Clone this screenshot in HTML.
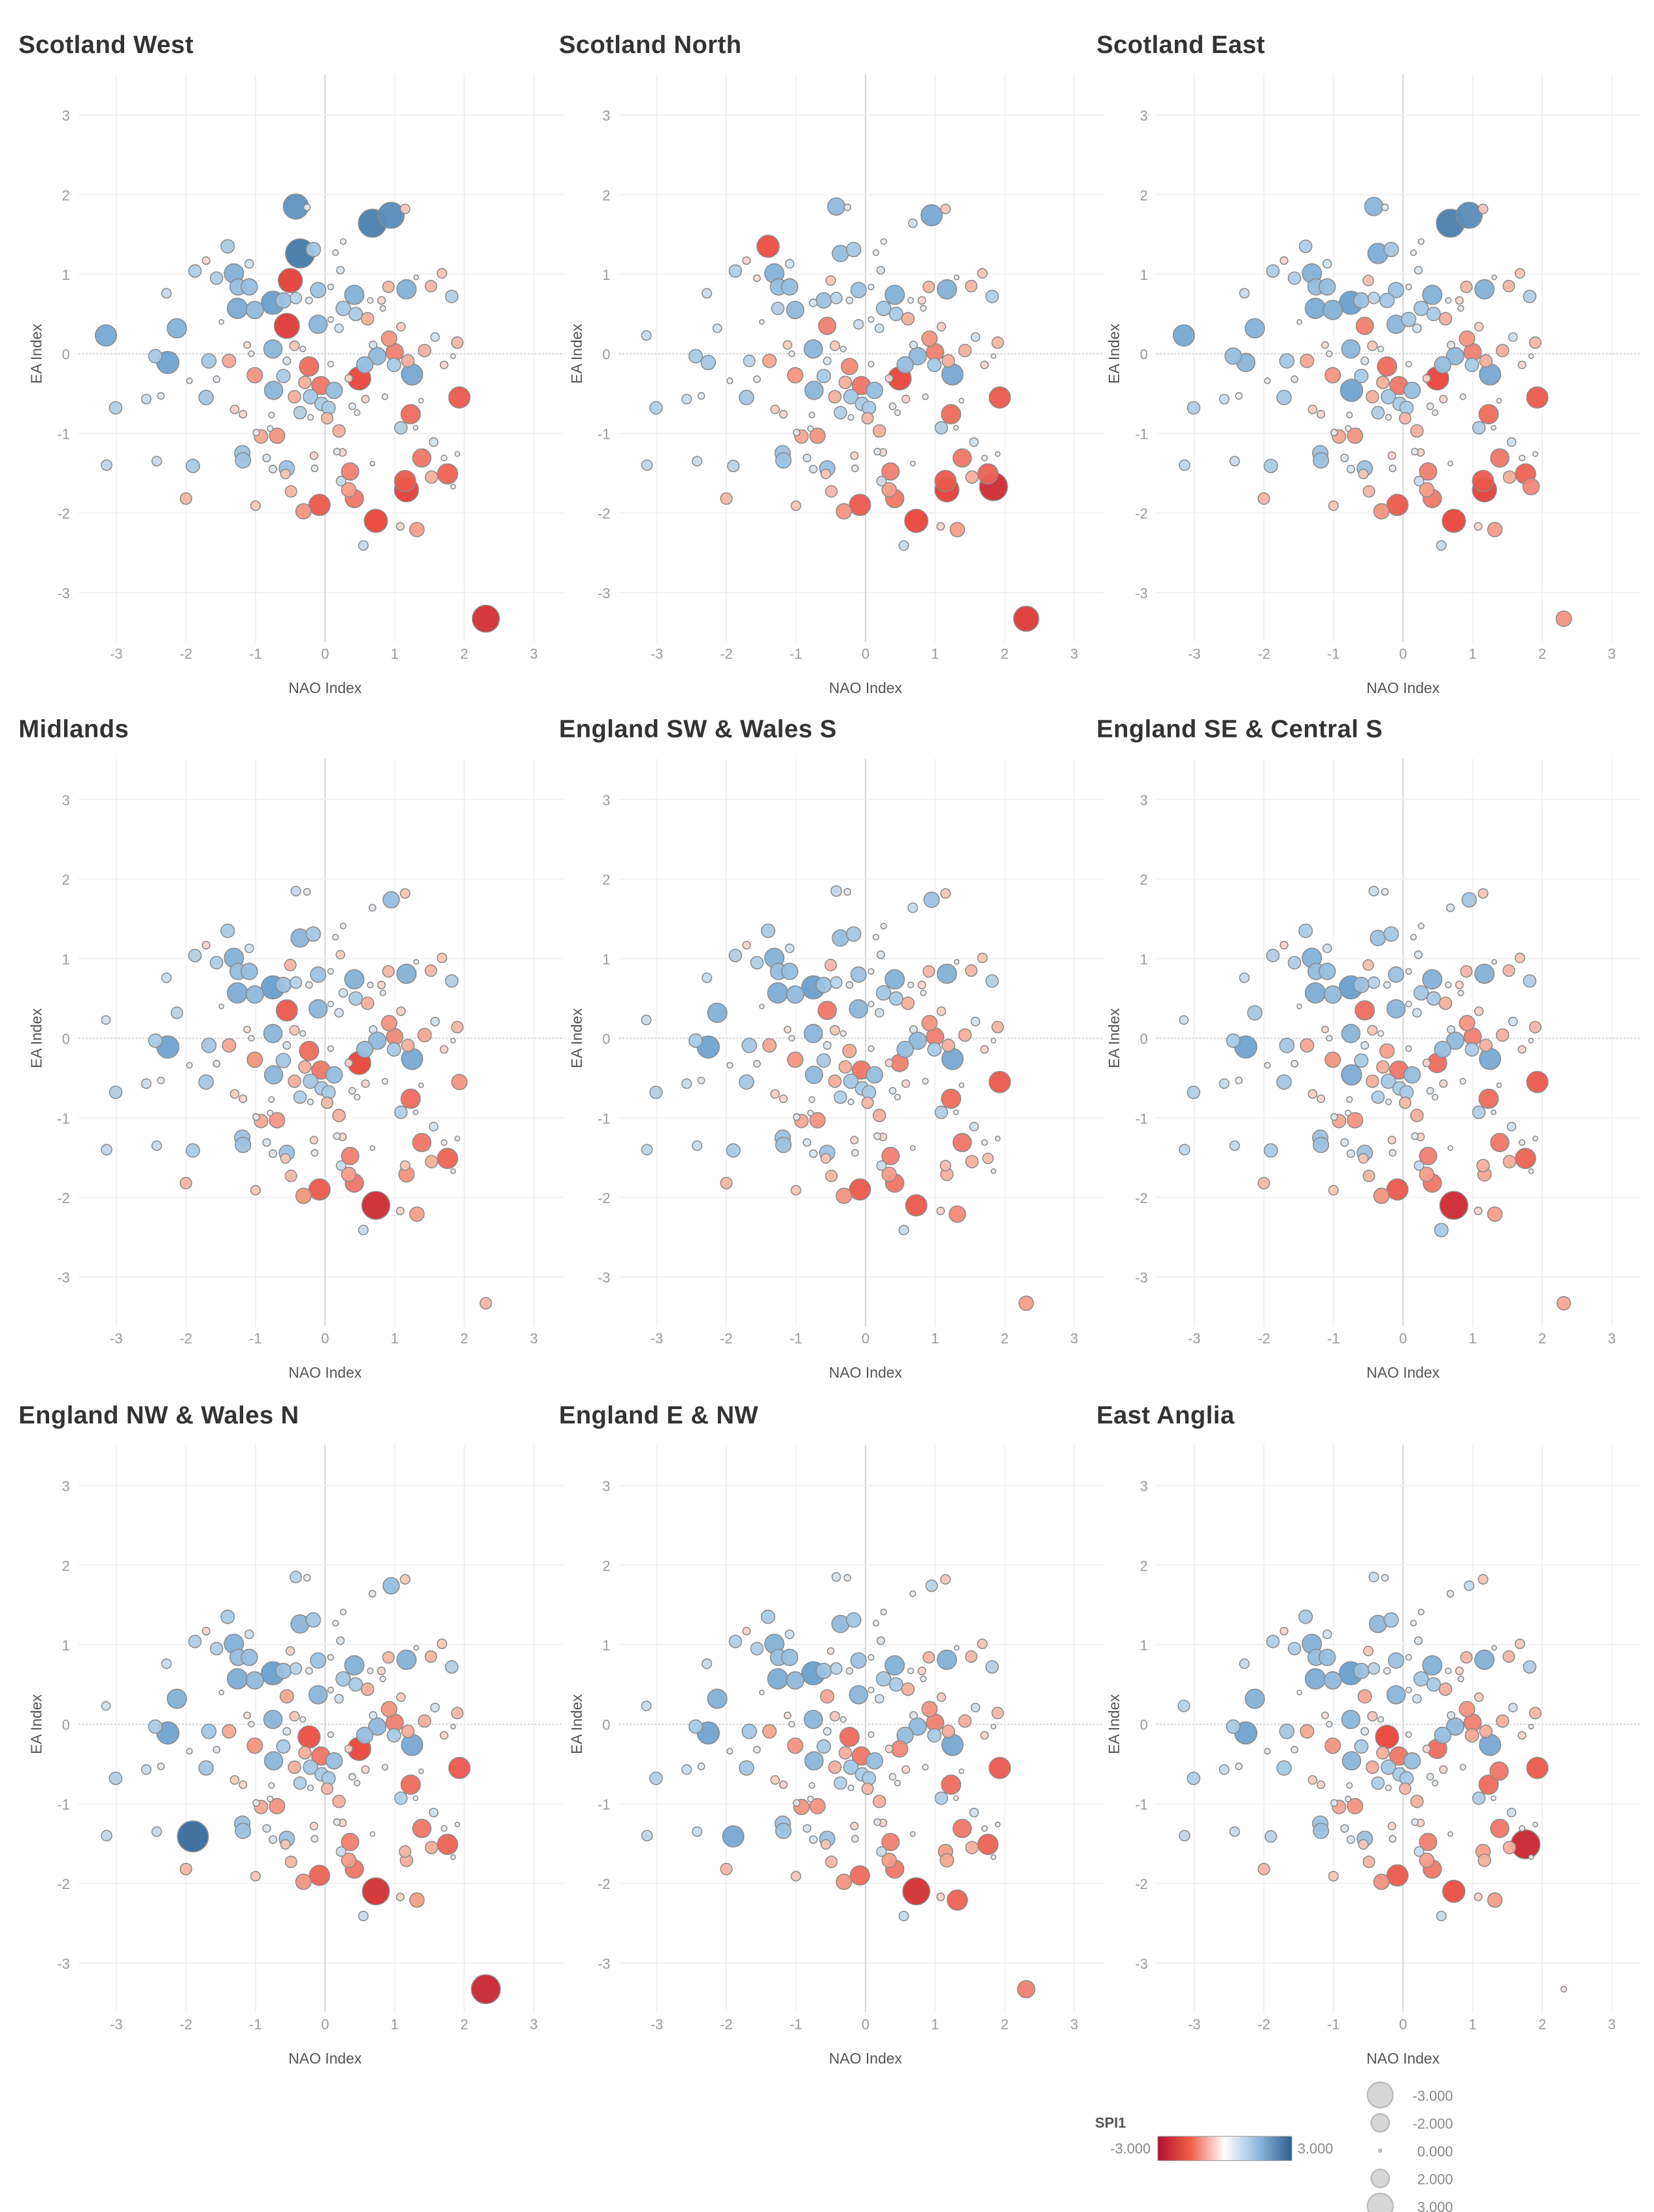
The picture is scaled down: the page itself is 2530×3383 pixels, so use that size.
<!DOCTYPE html>
<html><head><meta charset="utf-8">
<style>
html,body{margin:0;padding:0;background:#fff;}
svg{display:block;font-family:"Liberation Sans",sans-serif;}
</style></head>
<body>
<svg id="chart" width="2530" height="3383" viewBox="0 0 1160 1551" xmlns="http://www.w3.org/2000/svg">
<defs>
<linearGradient id="spiGrad" x1="0" x2="1" y1="0" y2="0">
<stop offset="0" stop-color="#b3102b"/><stop offset="0.25" stop-color="#f0614a"/><stop offset="0.5" stop-color="#ffffff"/><stop offset="0.75" stop-color="#8fb8dc"/><stop offset="1" stop-color="#2d5f8f"/>
</linearGradient>
</defs>
<g id="panels"></g>
<g>
<text x="768" y="1492" font-size="10" fill="#555" font-weight="bold">SPI1</text>
<text x="807" y="1510" font-size="10" fill="#888" text-anchor="end">-3.000</text>
<rect x="812" y="1498" width="94" height="17" fill="url(#spiGrad)" stroke="#999" stroke-width="0.5"/>
<text x="910" y="1510" font-size="10" fill="#888">3.000</text>
<g id="sizeLegend"></g>
</g>
</svg>
<script>
const NS='http://www.w3.org/2000/svg';
// Shared year positions (NAO index, EA index)
const naoValues=[-0.42,-0.26,0.68,0.95,1.15,0.26,-1.4,-1.71,-1.09,-0.36,-0.17,0.15,0.22,-1.87,-1.56,-1.31,-1.25,-1.09,-0.5,-2.28,-1.26,-1.01,-0.75,-0.6,-0.42,-0.1,-0.23,0.08,0.42,0.26,0.44,0.65,0.81,0.91,1.17,1.52,1.68,1.82,1.31,-1.49,-2.13,-3.15,-0.55,-0.1,0.08,0.2,0.61,0.83,1.09,1.58,1.9,0.92,1.0,1.43,1.19,1.25,0.75,0.57,0.99,0.69,1.71,1.84,-1.12,-1.06,-0.75,-0.44,-0.32,-0.55,-2.44,-2.26,-1.67,-1.38,-0.23,0.08,-1.01,-0.6,-0.29,-0.06,0.13,0.49,0.34,-0.74,-1.56,-1.95,-0.44,-0.21,-0.05,-2.57,-2.36,-1.71,-3.01,0.05,0.39,0.58,0.86,1.38,1.93,-1.3,-1.18,-0.36,-0.77,-0.21,0.03,0.46,1.23,1.09,1.3,0.2,-0.99,-0.79,-0.92,-0.69,-1.19,-1.18,-0.84,-3.14,-2.42,-1.9,-0.75,-0.55,-0.57,-0.16,-0.15,0.17,0.25,0.36,0.23,0.68,1.39,1.56,1.71,1.9,1.15,1.17,1.53,1.76,1.84,0.34,0.42,-0.49,-2.0,-1.0,-0.31,-0.08,0.73,1.08,1.32,0.55,2.31];
const eaValues=[1.85,1.84,1.64,1.74,1.82,1.41,1.35,1.17,1.13,1.26,1.31,1.27,1.05,1.04,0.95,1.01,0.84,0.84,0.92,0.76,0.57,0.55,0.64,0.67,0.7,0.8,0.67,0.84,0.74,0.57,0.5,0.67,0.67,0.84,0.81,0.85,1.01,0.72,0.96,0.4,0.32,0.23,0.35,0.37,0.43,0.32,0.44,0.57,0.34,0.21,0.14,0.19,0.02,0.04,-0.09,-0.26,-0.03,-0.14,-0.14,0.11,-0.14,-0.03,0.11,0.0,0.06,0.1,0.06,-0.09,-0.03,-0.11,-0.09,-0.09,-0.16,-0.13,-0.27,-0.28,-0.36,-0.4,-0.46,-0.31,-0.31,-0.46,-0.32,-0.34,-0.54,-0.54,-0.63,-0.57,-0.53,-0.55,-0.68,-0.68,-0.66,-0.57,-0.54,-0.59,-0.55,-0.7,-0.76,-0.74,-0.77,-0.8,-0.81,-0.74,-0.76,-0.93,-0.93,-0.97,-0.99,-0.94,-1.04,-1.03,-1.25,-1.34,-1.31,-1.4,-1.35,-1.41,-1.45,-1.44,-1.51,-1.28,-1.44,-1.23,-1.24,-1.48,-1.6,-1.38,-1.31,-1.11,-1.31,-1.26,-1.6,-1.71,-1.55,-1.51,-1.67,-1.71,-1.82,-1.73,-1.82,-1.91,-1.98,-1.9,-2.1,-2.17,-2.21,-2.41,-3.33];
// SPI1 for Scotland West (base)
const spiScotlandWest=[2.2,0.3,2.5,2.3,-0.6,0.2,1.0,-0.4,0.5,2.6,1.1,0.2,0.4,0.9,0.9,1.6,1.3,1.3,-2.1,0.6,1.7,1.4,2.0,1.2,0.8,1.2,0.3,0.2,1.6,1.1,1.0,0.2,-0.4,-0.8,1.6,-0.8,-0.6,0.9,0.1,0.1,1.6,1.8,-2.2,1.5,0.2,0.5,-0.9,0.2,-0.5,0.5,-0.8,-1.2,-1.4,-0.9,-0.9,1.8,1.4,1.3,1.0,0.4,-0.4,0.1,-0.3,0.2,1.5,-0.6,0.2,0.4,1.0,1.9,1.1,-1.0,-1.6,0.2,-1.2,1.0,-0.9,-1.5,1.3,-2.0,-0.4,1.5,0.3,0.2,-0.9,1.1,1.0,0.6,0.3,1.1,0.9,1.0,0.3,-0.4,0.2,0.1,-1.8,-0.5,-0.4,0.9,0.2,0.2,-0.8,0.2,-1.6,0.9,0.1,-0.9,0.3,0.2,-1.0,-1.2,1.2,1.2,0.4,0.7,0.6,1.0,0.4,1.2,-0.6,-0.4,0.3,0.3,-0.4,-1.4,0.6,0.1,-1.5,0.5,0.2,0.1,-1.8,-2.1,-0.9,-1.7,0.1,-1.1,-1.5,-0.8,-0.8,-0.6,-1.2,-1.8,-2.0,-0.4,-1.1,0.6,-2.4];
// Per-region overrides: [index, spi] pairs
const ovScotlandNorth=[[6,-1.9],[0,1.4],[9,1.3],[22,0.4],[20,0.9],[43,0.6],[18,-0.6],[42,-1.4],[136,-2.5],[148,-2.2],[41,0.6],[69,1.1],[70,0.8],[14,-0.3],[62,-0.5],[72,-1.3],[3,1.8],[2,0.5],[40,0.5],[117,0.8]];
const ovScotlandEast=[[18,-0.7],[6,0.9],[9,1.7],[0,1.5],[42,-1.4],[148,-1.2],[136,-1.3],[21,1.6],[26,1.1],[44,1.1],[69,1.5],[68,1.3],[81,1.9]];
const ovMidlands=[[144,-2.5],[148,-0.8],[133,-1.2],[132,-0.6],[42,-1.8],[18,-0.8],[0,0.6],[9,1.5],[3,1.3],[2,0.3],[40,0.8],[41,0.5],[29,0.5],[52,-1.3],[53,-1.0],[96,-1.2],[75,1.1],[12,-0.5]];
const ovEnglandSW=[[148,-1.1],[144,-1.8],[146,-1.3],[133,-0.9],[132,-0.7],[42,-1.5],[18,-0.8],[0,0.7],[9,1.3],[3,1.2],[2,0.6],[41,0.6],[40,1.6],[81,1.4],[135,-0.7],[79,-1.4],[72,-1.0]];
const ovEnglandSE=[[144,-2.5],[148,-1.0],[133,-1.0],[132,-0.9],[42,-1.6],[18,-0.7],[0,0.6],[9,1.2],[3,1.1],[2,0.4],[40,1.1],[41,0.5],[79,-1.6],[72,-1.1],[81,1.7],[147,1.0]];
const ovEnglandNWWalesN=[[117,2.8],[148,-2.6],[144,-2.4],[72,-1.9],[143,-1.7],[42,-1.0],[18,-0.5],[0,0.8],[9,1.5],[3,1.3],[2,0.3],[41,0.5],[133,-0.9],[132,-0.8]];
const ovEnglandENW=[[117,1.8],[148,-1.4],[144,-2.4],[146,-1.7],[72,-1.6],[143,-1.6],[42,-1.0],[18,-0.3],[0,0.5],[9,1.4],[3,0.8],[2,0.2],[41,0.6],[79,-1.3],[110,-1.2],[133,-1.0],[132,-1.1]];
const ovEastAnglia=[[135,-2.6],[148,-0.2],[144,-1.9],[72,-2.0],[79,-1.6],[58,-1.0],[42,-1.0],[18,-0.6],[0,0.6],[9,1.4],[3,0.6],[2,0.3],[41,0.8],[117,0.8],[133,-0.9],[132,-1.1],[95,-1.5]];
const regionNames=['Scotland West','Scotland North','Scotland East','Midlands','England SW & Wales S','England SE & Central S','England NW & Wales N','England E & NW','East Anglia'];
const regionOverrides=[[],ovScotlandNorth,ovScotlandEast,ovMidlands,ovEnglandSW,ovEnglandSE,ovEnglandNWWalesN,ovEnglandENW,ovEastAnglia];
const axisTicks=[-3,-2,-1,0,1,2,3];
const sizeLegendValues=[-3,-2,0,2,3];
const sizeLegendLabels=['-3.000','-2.000','0.000','2.000','3.000'];

function mk(tag,attrs,parent){const e=document.createElementNS(NS,tag);for(const k in attrs)e.setAttribute(k,attrs[k]);if(parent)parent.appendChild(e);return e;}
function lerp(a,b,t){return a+(b-a)*t;}
function hex(c){return [parseInt(c.slice(1,3),16),parseInt(c.slice(3,5),16),parseInt(c.slice(5,7),16)];}
const cStops=[[-3,'#b3102b'],[-2,'#e9443a'],[-1,'#f5a792'],[0,'#f7f4f2'],[1,'#a9cbe6'],[2,'#6a9fcd'],[3,'#2d5f8f']];
function color(v){v=Math.max(-3,Math.min(3,v));for(let i=0;i<cStops.length-1;i++){if(v<=cStops[i+1][0]){const t=(v-cStops[i][0])/(cStops[i+1][0]-cStops[i][0]);const a=hex(cStops[i][1]),b=hex(cStops[i+1][1]);return 'rgb('+[0,1,2].map(j=>Math.round(lerp(a[j],b[j],t))).join(',')+')';}}return cStops[6][1];}
function radius(v){return 1.3+3.4*Math.abs(v);}

const colX=[228,607,984], rowY=[248,728,1209], ux=48.8, uy=55.8;
const root=document.getElementById('panels');
regionNames.forEach((name,p)=>{
  const x0=colX[p%3], y0=rowY[Math.floor(p/3)];
  const sx=v=>x0+v*ux, sy=v=>y0-v*uy;
  const g=mk('g',{},root);
  
  
  const t=mk('text',{x:x0-215,y:y0-211,'font-size':17.5,fill:'#333','font-weight':'bold','letter-spacing':'0.2'},g);t.textContent=name;
  
  
  const left=x0-173,right=x0+167,top=y0-196,bottom=y0+202;
  axisTicks.forEach(v=>{
    const gl=mk('line',{x1:sx(v),x2:sx(v),y1:top,y2:bottom,stroke:v===0?'#d8d8d8':'#f1f1f1','stroke-width':v===0?1:0.8},g);
    
    
    const hl=mk('line',{x1:left,x2:right,y1:sy(v),y2:sy(v),stroke:v===0?'#d8d8d8':'#f1f1f1','stroke-width':v===0?1:0.8,'stroke-dasharray':v===0?'1.5,1':''},g);
    
    
    const xt=mk('text',{x:sx(v),y:y0+214,'font-size':10,fill:'#999','text-anchor':'middle'},g);xt.textContent=v;
    
    
    const yt=mk('text',{x:x0-179,y:sy(v)+4,'font-size':10,fill:'#999','text-anchor':'end'},g);yt.textContent=v;
    
    
  });
  const xa=mk('text',{x:x0,y:y0+238,'font-size':10.5,fill:'#555','text-anchor':'middle'},g);xa.textContent='NAO Index';
  
  
  const ya=mk('text',{x:0,y:0,'font-size':10.5,fill:'#555','text-anchor':'middle',transform:'translate('+(x0-199)+','+y0+') rotate(-90)'},g);ya.textContent='EA Index';
  
  
  const spi=spiScotlandWest.slice();
  regionOverrides[p].forEach(o=>{spi[o[0]]=o[1];});
  const order=spi.map((v,i)=>i).sort((a,b)=>Math.abs(spi[b])-Math.abs(spi[a]));
  order.forEach(i=>{
    const c=mk('circle',{cx:sx(naoValues[i]),cy:sy(eaValues[i]),r:radius(spi[i]),fill:color(spi[i]),stroke:'#8a8a8a','stroke-width':0.7,'fill-opacity':0.95},g);
    
    
  });
});
const sl=document.getElementById('sizeLegend');
sizeLegendValues.forEach((v,i)=>{
  const y=1469+i*19.5;
  const c=mk('circle',{cx:968,cy:y,r:radius(v)*0.78,fill:'#d6d6d6',stroke:'#b8b8b8','stroke-width':1},sl);
  
  
  const t=mk('text',{x:1019,y:y+4,'font-size':10,fill:'#888','text-anchor':'end'},sl);t.textContent=sizeLegendLabels[i];
  
  
});
</script>
</body></html>
